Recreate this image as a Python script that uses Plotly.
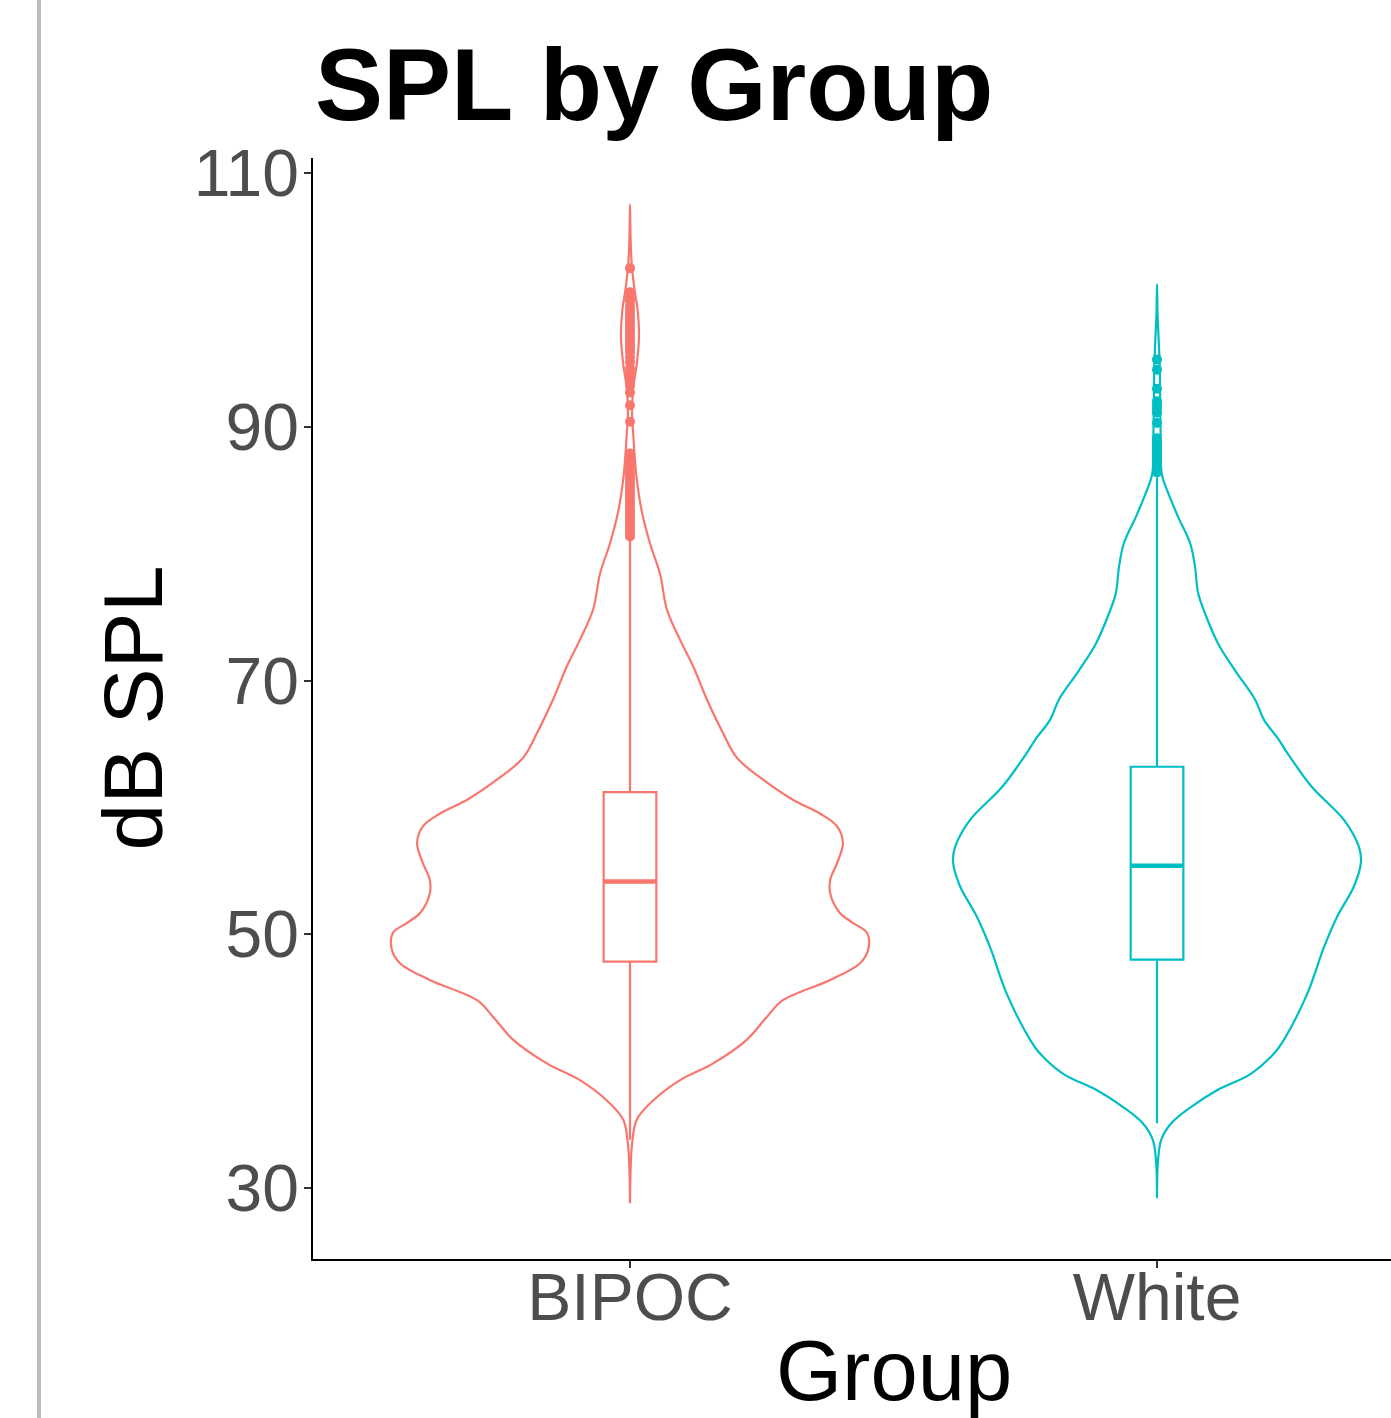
import plotly.graph_objects as go

# ---------------- data ----------------
groups = ["BIPOC", "White"]
group_pos = [1, 2]
colors = ["#F8766D", "#00BFC4"]

# violin density profiles: value (dB SPL) and half-width (x-axis units)
bipoc_vals = [107.5, 105.0, 103.0, 101.0, 99.0, 97.0, 95.0, 93.0, 91.0, 89.5, 87.6, 85.8,
              83.2, 80.8, 78.4, 75.6, 73.2, 71.1, 68.5, 65.9, 63.9, 62.2, 60.6, 59.5,
              58.5, 57.2, 55.6, 54.3, 53.2, 51.7, 50.9, 50.1, 48.8, 47.7, 46.4, 44.8,
              43.5, 41.7, 39.8, 38.5, 36.9, 35.4, 33.5, 28.8]
bipoc_width = [0.0, 0.001, 0.003, 0.008, 0.015, 0.017, 0.013, 0.006, 0.004, 0.006, 0.009, 0.013,
               0.023, 0.038, 0.057, 0.070, 0.095, 0.120, 0.146, 0.176, 0.203, 0.252, 0.309, 0.361,
               0.393, 0.404, 0.393, 0.380, 0.380, 0.398, 0.423, 0.450, 0.452, 0.436, 0.380, 0.290,
               0.260, 0.222, 0.157, 0.095, 0.044, 0.013, 0.004, 0.0]

white_vals = [101.25, 99.0, 97.0, 95.0, 92.0, 89.0, 86.3, 84.8, 82.9, 80.8, 79.0, 76.9,
              75.3, 72.9, 70.8, 68.5, 66.9, 65.4, 64.3, 61.6, 59.0, 56.9, 55.7, 53.8,
              51.4, 49.0, 45.3, 41.7, 40.6, 39.0, 37.7, 36.4, 35.1, 33.8, 32.2, 29.2]
white_width = [0.0, 0.001, 0.003, 0.005, 0.006, 0.007, 0.009, 0.021, 0.040, 0.063, 0.072, 0.078,
               0.091, 0.116, 0.148, 0.186, 0.203, 0.230, 0.247, 0.294, 0.355, 0.383, 0.387, 0.374,
               0.342, 0.317, 0.285, 0.241, 0.222, 0.178, 0.114, 0.065, 0.027, 0.008, 0.002, 0.0]

# box plot statistics
q1 = [47.85, 48.0]
median = [54.15, 55.4]
q3 = [61.2, 63.2]
lower_whisker = [33.8, 35.1]
upper_whisker = [81.2, 86.0]

# outliers
bipoc_outliers = [102.5, 100.6, 100.2, 99.9, 99.5, 99.2, 98.9, 98.6, 98.3, 98.0, 97.7, 97.4,
                  97.1, 96.8, 96.5, 96.2, 95.9, 95.5, 95.1, 94.6, 94.2, 93.8, 93.3, 92.7,
                  91.7, 90.4, 87.9, 87.6, 87.3, 87.0, 86.7, 86.4, 86.1, 85.8, 85.5, 85.2,
                  84.9, 84.6, 84.3, 84.0, 83.7, 83.4, 83.1, 82.8, 82.5, 82.2, 81.9, 81.6, 81.35]
white_outliers = [95.3, 94.5, 93.0, 92.0, 91.7, 91.4, 91.1, 90.3, 89.1, 88.8, 88.5, 88.2,
                  87.9, 87.6, 87.3, 87.0, 86.7, 86.4]

y_ticks = [30, 50, 70, 90, 110]

# ---------------- figure ----------------
FONT = "Liberation Sans, Arial, sans-serif"
BOX_W = 0.1

fig = go.Figure()

profiles = [(bipoc_vals, bipoc_width), (white_vals, white_width)]
outliers = [bipoc_outliers, white_outliers]

for i, (vals, wid) in enumerate(profiles):
    c = group_pos[i]
    xs = [c - w for w in wid] + [c + w for w in reversed(wid)]
    ys = list(vals) + list(reversed(vals))
    fig.add_trace(go.Scatter(x=xs, y=ys, mode="lines",
                             line=dict(color=colors[i], width=2.2, shape="spline", smoothing=1.0),
                             hoverinfo="skip", showlegend=False))

for i in range(2):
    c = group_pos[i]
    fig.add_trace(go.Box(x=[c], q1=[q1[i]], median=[median[i]], q3=[q3[i]],
                         lowerfence=[lower_whisker[i]], upperfence=[upper_whisker[i]],
                         width=BOX_W, whiskerwidth=0, boxpoints=False,
                         line=dict(color=colors[i], width=2.2),
                         fillcolor="rgba(255,255,255,0)", showlegend=False,
                         hoverinfo="skip"))
    fig.add_trace(go.Scatter(x=[c - BOX_W / 2, c + BOX_W / 2], y=[median[i], median[i]],
                             mode="lines", line=dict(color=colors[i], width=4.5),
                             hoverinfo="skip", showlegend=False))
    fig.add_trace(go.Scatter(x=[c] * len(outliers[i]), y=outliers[i], mode="markers",
                             marker=dict(color=colors[i], size=10, line=dict(width=0)),
                             hoverinfo="skip", showlegend=False))

fig.update_layout(
    width=1391, height=1418,
    margin=dict(l=313, r=0, t=158, b=159),
    paper_bgcolor="white", plot_bgcolor="white",
    font=dict(family=FONT),
    title=dict(text="<b>SPL by Group</b>", x=315 / 1391, xanchor="left", xref="container",
               y=1 - 84 / 1418, yanchor="middle", yref="container",
               font=dict(size=102, color="black", family=FONT)),
    xaxis=dict(range=[0.3985, 2.444], tickvals=group_pos, ticktext=groups,
               showgrid=False, zeroline=False, showline=True, linecolor="black", linewidth=1.6,
               ticks="outside", ticklen=7, tickwidth=1.5, tickcolor="#333333",
               ticklabelstandoff=-27,
               tickfont=dict(size=66, color="#4D4D4D", family=FONT)),
    yaxis=dict(range=[24.404, 111.182], tickvals=y_ticks,
               showgrid=False, zeroline=False, showline=True, linecolor="black", linewidth=1.6,
               ticks="outside", ticklen=7, tickwidth=1.5, tickcolor="#333333",
               ticklabelstandoff=-8,
               tickfont=dict(size=66, color="#4D4D4D", family=FONT)),
    annotations=[
        dict(text="dB SPL", textangle=-90, xref="paper", yref="paper",
             x=(132 - 313) / 1078, y=0.5, xanchor="center", yanchor="middle",
             showarrow=False, font=dict(size=84, color="black", family=FONT)),
        dict(text="Group", xref="paper", yref="paper",
             x=(894 - 313) / 1078, y=(1259 - 1370) / 1101, xanchor="center", yanchor="middle",
             showarrow=False, font=dict(size=85, color="black", family=FONT)),
    ],
    shapes=[dict(type="line", xref="paper", yref="paper",
                 x0=(39 - 313) / 1078, x1=(39 - 313) / 1078, y0=-0.2, y1=1.2,
                 line=dict(color="#BEBEBE", width=4))],
)

fig.write_html("out.html")
